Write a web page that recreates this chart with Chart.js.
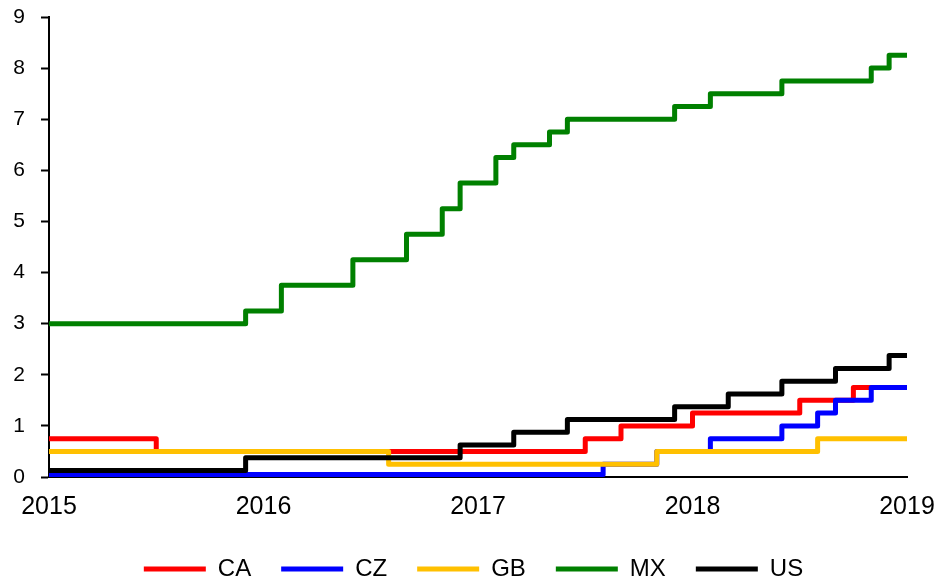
<!DOCTYPE html>
<html>
<head>
<meta charset="utf-8">
<script src="https://cdn.jsdelivr.net/npm/chart.js@4/dist/chart.umd.min.js"></script>
<style>
  html, body { margin: 0; padding: 0; background: #fff; }
  #wrap { width: 937px; height: 580px; }
</style>
</head>
<body>
<div id="wrap"><canvas id="chart" width="937" height="580"></canvas></div>
<script>
// policy rates, month the new rate shows up and the rate from then on
var caMonths = ['2015-01', '2015-07', '2017-07', '2017-09', '2018-01', '2018-07', '2018-10'];
var caRates = [0.75, 0.5, 0.75, 1.0, 1.25, 1.5, 1.75];

var czMonths = ['2015-01', '2017-08', '2017-11', '2018-02', '2018-06', '2018-08', '2018-09', '2018-11'];
var czRates = [0.05, 0.25, 0.5, 0.75, 1.0, 1.25, 1.5, 1.75];

var gbMonths = ['2015-01', '2016-08', '2017-11', '2018-08'];
var gbRates = [0.5, 0.25, 0.5, 0.75];

var mxMonths = ['2015-01', '2015-12', '2016-02', '2016-06', '2016-09', '2016-11', '2016-12', '2017-02',
  '2017-03', '2017-05', '2017-06', '2017-12', '2018-02', '2018-06', '2018-11', '2018-12'];
var mxRates = [3.0, 3.25, 3.75, 4.25, 4.75, 5.25, 5.75, 6.25, 6.5, 6.75, 7.0, 7.25, 7.5, 7.75, 8.0, 8.25];

var usMonths = ['2015-01', '2015-12', '2016-12', '2017-03', '2017-06', '2017-12', '2018-03', '2018-06', '2018-09', '2018-12'];
var usRates = [0.125, 0.375, 0.625, 0.875, 1.125, 1.375, 1.625, 1.875, 2.125, 2.375];

var endMonth = '2019-01';
var yearTicks = [2015, 2016, 2017, 2018, 2019];

var seriesNames = ['CA', 'CZ', 'GB', 'MX', 'US'];
var seriesColors = ['#FF0000', '#0000FF', '#FFC000', '#008000', '#000000'];

var FONT = '"Liberation Sans", Arial, sans-serif';

function monthToYear(m) {
  var p = m.split('-');
  return parseInt(p[0], 10) + (parseInt(p[1], 10) - 1) / 12;
}

function toPoints(months, rates) {
  var pts = months.map(function (m, i) {
    return { x: monthToYear(m), y: rates[i] };
  });
  pts.push({ x: monthToYear(endMonth), y: rates[rates.length - 1] });
  return pts;
}

var allMonths = [caMonths, czMonths, gbMonths, mxMonths, usMonths];
var allRates = [caRates, czRates, gbRates, mxRates, usRates];

var datasets = seriesNames.map(function (name, i) {
  return {
    label: name,
    data: toPoints(allMonths[i], allRates[i]),
    borderColor: seriesColors[i],
    backgroundColor: seriesColors[i],
    borderWidth: 5,
    borderCapStyle: 'round',
    borderJoinStyle: 'round',
    pointRadius: 0,
    stepped: 'before',
    fill: false,
    // later series painted on top
    order: seriesNames.length - i
  };
});

// legend sits low, keep its box short
var legendHeight = {
  id: 'legendHeight',
  beforeLayout: function (chart) {
    var lg = chart.legend;
    if (!lg || lg._fitPatched) return;
    var fit = lg.fit;
    lg.fit = function () {
      fit.call(this);
      this.height = 53;
    };
    lg._fitPatched = true;
  }
};

Chart.defaults.font.family = FONT;
Chart.defaults.color = '#000';

new Chart(document.getElementById('chart'), {
  type: 'line',
  data: { datasets: datasets },
  plugins: [legendHeight],
  options: {
    responsive: false,
    animation: false,
    layout: { padding: { left: 10, right: 0, top: 17, bottom: 0 } },
    plugins: {
      tooltip: { enabled: false },
      legend: {
        position: 'bottom',
        labels: {
          usePointStyle: true,
          pointStyle: 'line',
          pointStyleWidth: 62,
          padding: 30,
          color: '#000',
          font: { size: 24, family: FONT },
          sort: function (a, b) { return a.datasetIndex - b.datasetIndex; }
        }
      }
    },
    scales: {
      x: {
        type: 'linear',
        min: yearTicks[0],
        max: yearTicks[yearTicks.length - 1],
        afterBuildTicks: function (axis) {
          axis.ticks = yearTicks.map(function (v) { return { value: v }; });
        },
        afterFit: function (scale) {
          scale.height = 50;
          scale.paddingLeft = 0;
          scale.paddingRight = 30;
        },
        ticks: {
          padding: 15,
          color: '#000',
          font: { size: 25, family: FONT },
          maxRotation: 0,
          callback: function (v) { return String(v); }
        },
        grid: { display: false, drawTicks: false },
        border: { display: true, color: '#000', width: 2 }
      },
      y: {
        min: 0,
        max: 9,
        afterFit: function (scale) {
          scale.width = 39;
          scale.paddingTop = 0;
        },
        ticks: {
          stepSize: 1,
          padding: 16,
          color: '#000',
          font: { size: 21, family: FONT }
        },
        grid: {
          drawOnChartArea: false,
          drawTicks: true,
          tickLength: 8,
          tickColor: '#000',
          tickWidth: 2
        },
        border: { display: true, color: '#000', width: 2 }
      }
    }
  }
});
</script>
</body>
</html>
